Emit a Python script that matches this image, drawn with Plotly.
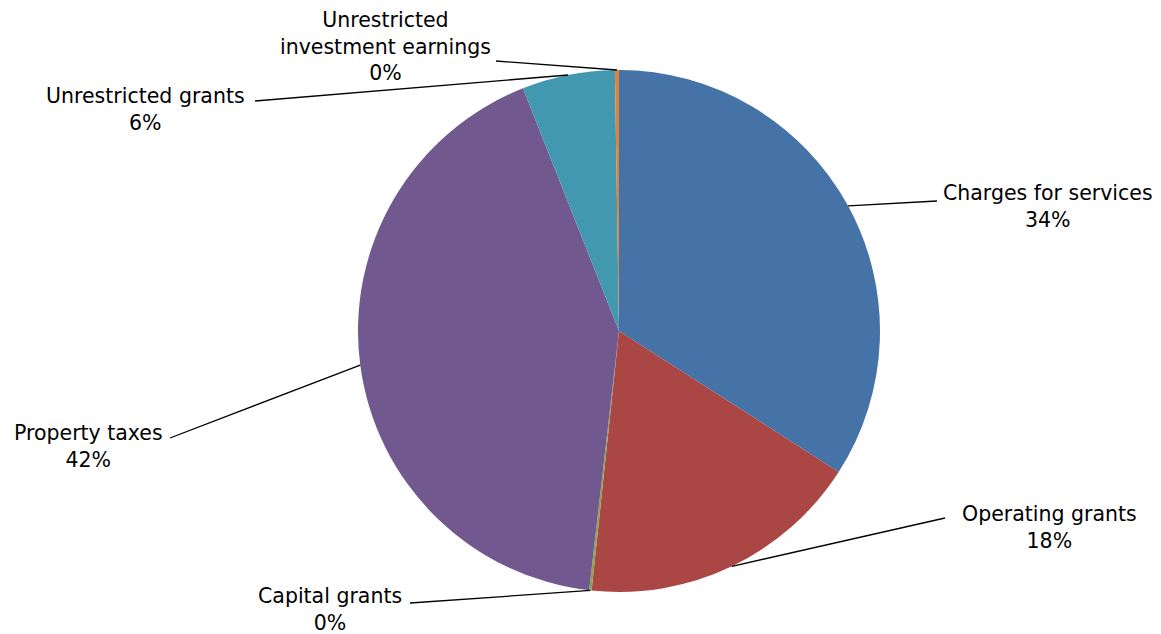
import math
import plotly.graph_objects as go

# Data
categories = ["Charges for services", "Operating grants", "Capital grants",
              "Property taxes", "Unrestricted grants", "Unrestricted investment earnings"]
values = [34.1, 17.6, 0.15, 42.2, 5.75, 0.25]
pct_labels = ["34%", "18%", "0%", "42%", "6%", "0%"]
colors = ["#4572A7", "#AA4643", "#89A54E", "#71588F", "#4198AF", "#DB843D"]

# Layout (pixels in the page; the page body has an 8px margin)
W, H = 1161, 634
OFF = 8
FW, FH = W - OFF, H - OFF
CX, CY, R = 619, 331, 261
label_text = ["Charges for services", "Operating grants", "Capital grants",
              "Property taxes", "Unrestricted grants", "Unrestricted<br>investment earnings"]
label_pos = [(1048, 207), (1049, 527), (330, 609), (88, 447), (145, 109), (385, 47)]
line_end = [(937, 201), (945, 518), (410, 603), (170, 438), (255, 101), (496, 61)]
FONT = "DejaVu Sans, sans-serif"
FSIZE = 20.5


def px(x, y):
    return (x - OFF) / FW, 1 - (y - OFF) / FH


dx0, dy1 = px(CX - R, CY - R)
dx1, dy0 = px(CX + R, CY + R)
fig = go.Figure(go.Pie(
    labels=categories, values=values, sort=False, direction="clockwise",
    rotation=0, marker=dict(colors=colors, line=dict(width=0)),
    textinfo="none", hoverinfo="label+percent", showlegend=False,
    domain=dict(x=[dx0, dx1], y=[dy0, dy1]),
))

total = sum(values)
cum = 0
shapes, annotations = [], []
for i, v in enumerate(values):
    mid = (cum + v / 2) / total * 2 * math.pi
    cum += v
    rx = CX + R * math.sin(mid)
    ry = CY - R * math.cos(mid)
    x0, y0 = px(rx, ry)
    x1, y1 = px(*line_end[i])
    shapes.append(dict(type="line", xref="paper", yref="paper", x0=x0, y0=y0, x1=x1, y1=y1,
                       line=dict(color="black", width=1.3)))
    ax, ay = px(*label_pos[i])
    annotations.append(dict(x=ax, y=ay, xref="paper", yref="paper", showarrow=False,
                            xanchor="center", yanchor="middle", align="center",
                            text=f"{label_text[i]}<br>{pct_labels[i]}",
                            font=dict(family=FONT, size=FSIZE, color="black")))

fig.update_layout(width=FW, height=FH, margin=dict(l=0, r=0, t=0, b=0),
                  paper_bgcolor="white", plot_bgcolor="white",
                  shapes=shapes, annotations=annotations)
fig.write_html("out.html")
